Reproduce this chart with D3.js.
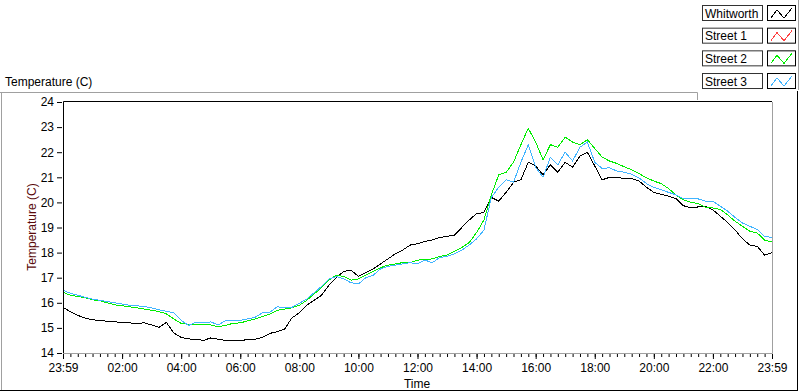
<!DOCTYPE html>
<html>
<head>
<meta charset="utf-8">
<script src="https://cdn.jsdelivr.net/npm/d3@7"></script>
<style>
body { margin: 0; background: #fff; }
svg { font-family: "Liberation Sans", Arial, sans-serif; font-size: 12px; }
</style>
</head>
<body>
<script>
// one reading every 15 minutes, hours counted from 23:59
var hours = d3.range(0, 24.001, 0.25);

var whitworth = [
  15.82, 15.64, 15.50, 15.39, 15.32, 15.30, 15.26, 15.24, 15.22, 15.20, 15.18, 15.20,
  15.12, 15.02, 15.22, 14.80, 14.62, 14.56, 14.55, 14.50, 14.60, 14.55, 14.50, 14.48,
  14.50, 14.53, 14.55, 14.62, 14.78, 14.85, 14.95, 15.40, 15.60, 15.90, 16.10, 16.30,
  16.70, 17.00, 17.25, 17.30, 17.05, 17.20, 17.35, 17.55, 17.75, 17.95, 18.10, 18.30,
  18.35, 18.45, 18.50, 18.60, 18.65, 18.70, 19.00, 19.30, 19.55, 19.60, 20.20, 20.05,
  20.40, 20.80, 20.90, 21.60, 21.45, 21.10, 21.50, 21.20, 21.60, 21.40, 21.85, 22.00,
  21.45, 20.90, 21.00, 21.00, 20.95, 20.95, 20.85, 20.60, 20.40, 20.32, 20.25, 20.15,
  19.87, 19.78, 19.82, 19.85, 19.70, 19.45, 19.20, 18.90, 18.55, 18.30, 18.25, 17.90,
  18.00
];

var street1 = [];

var street2 = [
  16.42, 16.30, 16.25, 16.20, 16.12, 16.08, 16.00, 15.92, 15.88, 15.84, 15.80, 15.75,
  15.70, 15.65, 15.56, 15.36, 15.18, 15.14, 15.14, 15.14, 15.12, 15.05, 15.10, 15.18,
  15.20, 15.28, 15.35, 15.45, 15.55, 15.70, 15.75, 15.80, 15.90, 16.10, 16.35, 16.60,
  16.90, 17.10, 17.05, 16.90, 16.95, 17.10, 17.25, 17.40, 17.50, 17.55, 17.60, 17.60,
  17.70, 17.72, 17.75, 17.85, 17.90, 18.05, 18.20, 18.40, 18.80, 19.30, 20.30, 21.10,
  21.20, 21.60, 22.30, 22.95, 22.40, 21.70, 22.30, 22.20, 22.60, 22.40, 22.30, 22.50,
  22.15, 21.80, 21.65, 21.55, 21.42, 21.30, 21.15, 20.98, 20.85, 20.75, 20.55, 20.30,
  20.10, 20.00, 19.96, 19.80, 19.78, 19.72, 19.50, 19.25, 19.05, 18.85, 18.78, 18.50,
  18.42
];

var street3 = [
  16.50, 16.38, 16.30, 16.22, 16.15, 16.10, 16.05, 16.00, 15.95, 15.90, 15.88, 15.85,
  15.80, 15.72, 15.66, 15.60, 15.30, 15.10, 15.22, 15.20, 15.24, 15.12, 15.28, 15.28,
  15.30, 15.36, 15.42, 15.60, 15.62, 15.84, 15.80, 15.82, 15.98, 16.15, 16.40, 16.65,
  16.95, 17.05, 16.95, 16.80, 16.75, 17.00, 17.10, 17.35, 17.45, 17.50, 17.55, 17.60,
  17.55, 17.70, 17.60, 17.80, 17.85, 17.95, 18.10, 18.30, 18.55, 18.90, 20.20, 20.60,
  20.90, 20.80, 21.60, 22.30, 21.40, 21.00, 21.80, 21.50, 22.00, 21.65, 22.20, 22.40,
  21.60, 21.35, 21.38, 21.25, 21.20, 21.12, 20.98, 20.75, 20.60, 20.50, 20.40, 20.30,
  20.15, 20.14, 20.14, 20.05, 20.05, 19.85, 19.65, 19.40, 19.18, 19.05, 18.92, 18.65,
  18.60
];

var seriesNames = ["Whitworth", "Street 1", "Street 2", "Street 3"];
var seriesColors = ["#000000", "#ff4040", "#00ee00", "#40b4ff"];
var seriesData = [whitworth, street1, street2, street3];

var yTicks = d3.range(14, 25, 1);
var xMajor = d3.range(0, 25, 2);
var xLabels = ["23:59", "02:00", "04:00", "06:00", "08:00", "10:00", "12:00",
               "14:00", "16:00", "18:00", "20:00", "22:00", "23:59"];

var svg = d3.select("body").append("svg")
    .attr("width", 800)
    .attr("height", 392);

var x = d3.scaleLinear().domain([0, 24]).range([63, 772]);
var y = d3.scaleLinear().domain([14, 24]).range([353, 102]);

// outer frame
svg.append("path").attr("d", "M0,92.5H697.5V100").attr("fill", "none").attr("stroke", "#a0a0a0");
svg.append("line").attr("x1", 1.5).attr("x2", 1.5).attr("y1", 92).attr("y2", 390).attr("stroke", "#a0a0a0");
svg.append("line").attr("x1", 0).attr("x2", 798).attr("y1", 390.5).attr("y2", 390.5).attr("stroke", "#000");
svg.append("line").attr("x1", 797.5).attr("x2", 797.5).attr("y1", 91).attr("y2", 391).attr("stroke", "#000");

svg.append("text")
    .attr("x", 5)
    .attr("y", 86)
    .attr("fill", "#000")
    .text("Temperature (C)");

// plot area
svg.append("clipPath").attr("id", "clip")
  .append("rect").attr("x", 63).attr("y", 102).attr("width", 709).attr("height", 251);

var lineGen = d3.line()
    .x(function(d, i) { return x(hours[i]); })
    .y(function(d) { return y(d); });

svg.append("g").attr("clip-path", "url(#clip)")
  .selectAll("path")
  .data(seriesData)
  .enter()
  .append("path")
    .attr("d", function(d) { return d.length ? lineGen(d) : null; })
    .attr("fill", "none")
    .attr("stroke", function(d, i) { return seriesColors[i]; })
    .attr("stroke-width", 1)
    .attr("shape-rendering", "crispEdges");

svg.append("path").attr("d", "M63.5,353V101.5H772").attr("fill", "none").attr("stroke", "#000");
svg.append("path").attr("d", "M772.5,102V353.5H63").attr("fill", "none").attr("stroke", "#a0a0a0");

// y axis
var yAxis = svg.append("g")
    .attr("transform", "translate(62,0)")
    .call(d3.axisLeft(y).tickValues(yTicks).tickSize(5).tickPadding(3).tickFormat(d3.format("d")));
yAxis.select(".domain").remove();
yAxis.selectAll("text").style("font-family", "Liberation Sans, Arial, sans-serif").style("font-size", "12px").attr("fill", "#000");
yAxis.selectAll("line").attr("stroke", "#000");

svg.append("text")
    .attr("transform", "translate(36,227) rotate(-90)")
    .attr("text-anchor", "middle")
    .attr("fill", "#5a0a0a")
    .text("Temperature (C)");

// x axis, minor ticks every 15 minutes
var xMinor = svg.append("g")
    .attr("transform", "translate(0,354)")
    .call(d3.axisBottom(x).tickValues(hours).tickSize(3).tickFormat(""));
xMinor.select(".domain").remove();
xMinor.selectAll("line").attr("stroke", "#000");

var xAxis = svg.append("g")
    .attr("transform", "translate(0,354)")
    .call(d3.axisBottom(x).tickValues(xMajor).tickSize(5).tickPadding(4)
      .tickFormat(function(d, i) { return xLabels[i]; }));
xAxis.select(".domain").remove();
xAxis.selectAll("line").attr("stroke", "#000");
xAxis.selectAll("text").style("font-family", "Liberation Sans, Arial, sans-serif").style("font-size", "12px").attr("fill", "#000");

svg.append("text")
    .attr("x", 417)
    .attr("y", 388)
    .attr("text-anchor", "middle")
    .attr("fill", "#000")
    .text("Time");

// legend
svg.append("line").attr("x1", 798.5).attr("x2", 798.5).attr("y1", 0).attr("y2", 90).attr("stroke", "#a0a0a0");

var legend = svg.selectAll(".legend")
    .data(seriesNames)
    .enter()
    .append("g")
    .attr("class", "legend")
    .attr("transform", function(d, i) { return "translate(0," + (5 + i * 22.67) + ")"; });

legend.append("rect")
    .attr("x", 702.5).attr("y", 0.5)
    .attr("width", 60).attr("height", 15)
    .attr("fill", "#fff")
    .attr("stroke", "#333");

legend.append("text")
    .attr("x", 705)
    .attr("y", 12.5)
    .attr("fill", "#000")
    .text(function(d) { return d; });

legend.append("rect")
    .attr("x", 767.5).attr("y", 0.5)
    .attr("width", 28).attr("height", 15)
    .attr("fill", "#fff")
    .attr("stroke", "#000");

legend.append("path")
    .attr("d", "M771,13L777,5L784,13L792,3")
    .attr("fill", "none")
    .attr("stroke", function(d, i) { return seriesColors[i]; })
    .attr("shape-rendering", "crispEdges");
</script>
</body>
</html>
